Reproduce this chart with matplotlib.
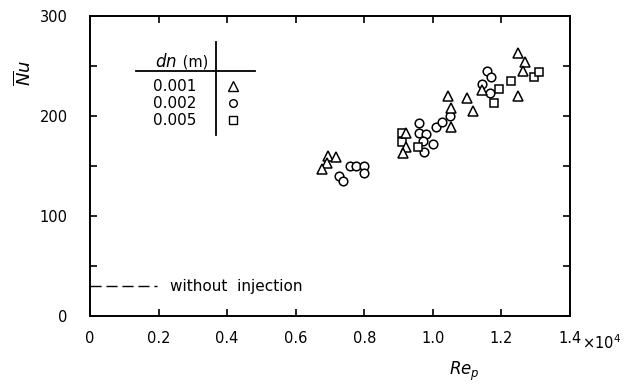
import matplotlib
matplotlib.use("Agg")
import matplotlib.pyplot as plt
from matplotlib.ticker import MultipleLocator, FixedLocator

plt.rcParams['font.family'] = ['DejaVu Sans']
plt.rcParams['mathtext.fontset'] = 'dejavusans'

# Mean Nusselt number vs particle Reynolds number (Re_p in units of 1e4)
re_d001 = [0.695, 0.717, 0.690, 0.678, 0.921, 0.923, 0.912, 1.045, 1.052, 1.052,
           1.100, 1.117, 1.142, 1.249, 1.249, 1.268, 1.263]
nu_d001 = [160, 159, 153, 147, 183, 169, 163, 220, 208, 189,
           218, 205, 226, 220, 263, 254, 245]

re_d002 = [0.758, 0.777, 0.800, 0.800, 0.727, 0.737, 0.959, 0.959, 0.979, 0.970,
           0.975, 1.000, 1.010, 1.028, 1.050, 1.159, 1.171, 1.142, 1.168]
nu_d002 = [150, 150, 150, 143, 140, 135, 193, 183, 182, 175,
           164, 172, 189, 194, 200, 245, 239, 232, 223]

re_d005 = [0.909, 0.909, 0.957, 1.192, 1.179, 1.229, 1.295, 1.309]
nu_d005 = [183, 174, 169, 227, 213, 235, 239, 244]

nozzle_labels = ['0.001', '0.002', '0.005']
nozzle_markers = ['^', 'o', 's']

# Reference level without injection
no_injection_nu = 30
no_injection_re_end = 0.195

x_ticks = [0, 0.2, 0.4, 0.6, 0.8, 1.0, 1.2, 1.4]
x_tick_labels = ['0', '0.2', '0.4', '0.6', '0.8', '1.0', '1.2', '1.4']
y_ticks = [0, 100, 200, 300]
y_tick_labels = ['0', '100', '200', '300']

fig = plt.figure(figsize=(6.31, 3.89), dpi=100)
ax = fig.add_axes([90 / 631, 1 - 316 / 389, 480 / 631, 300 / 389])

mk = dict(linestyle='none', markerfacecolor='white', markeredgecolor='black',
          markeredgewidth=1.1, zorder=3)
for re_vals, nu_vals, m, ms in [(re_d002, nu_d002, 'o', 6.2),
                                (re_d005, nu_d005, 's', 6.0),
                                (re_d001, nu_d001, '^', 7.0)]:
    ax.plot(re_vals, nu_vals, marker=m, markersize=ms, **mk)

ax.plot([0, no_injection_re_end], [no_injection_nu, no_injection_nu],
        color='black', linewidth=1.0, dashes=(8, 3.5))
ax.text(0.233, no_injection_nu, 'without  injection', fontsize=11,
        va='center', ha='left')

ax.set_xlim(0, 1.4)
ax.set_ylim(0, 300)
ax.set_xticks(x_ticks)
ax.set_xticklabels(x_tick_labels)
ax.yaxis.set_major_locator(FixedLocator(y_ticks))
ax.set_yticklabels(y_tick_labels)
ax.yaxis.set_minor_locator(MultipleLocator(50))

for s in ax.spines.values():
    s.set_linewidth(1.4)
ax.tick_params(which='both', direction='in', top=True, right=True,
               length=5, width=1.2, labelsize=10.5)
ax.tick_params(axis='x', pad=11)
ax.tick_params(axis='y', pad=16)

ax.text(1.024, -0.058, r'$\times$10$^4$', transform=ax.transAxes, fontsize=10.5,
        ha='left', va='top')

ax.set_xlabel(r'$Re_p$', fontsize=12)
ax.xaxis.set_label_coords(0.78, -0.145)
ax.set_ylabel(r'$\overline{N}u$', fontsize=13)
ax.yaxis.set_label_coords(-0.115, 0.81)

# Nozzle diameter table
tr = ax.transAxes
def fx(px):
    return (px - 90) / 480
def fy(py):
    return (316 - py) / 300

ax.plot([fx(136), fx(255)], [fy(70.7), fy(70.7)], color='black', lw=1.3,
        transform=tr, clip_on=False)
ax.plot([fx(216), fx(216)], [fy(42), fy(135)], color='black', lw=1.3,
        transform=tr, clip_on=False)
ax.text(fx(177), fy(62), r'$dn$', fontsize=12, ha='right', va='center',
        transform=tr)
ax.text(fx(178), fy(62), ' (m)', fontsize=10.5, ha='left', va='center',
        transform=tr)
for lbl, m, py in zip(nozzle_labels, nozzle_markers, [86, 103, 120]):
    ax.text(fx(175), fy(py), lbl, fontsize=11, ha='center', va='center',
            transform=tr)
    ax.plot([fx(233)], [fy(py)], marker=m, markersize=5.5 if m != '^' else 6.5,
            linestyle='none', markerfacecolor='white', markeredgecolor='black',
            markeredgewidth=1.0, transform=tr, clip_on=False)

fig.savefig('out.png', dpi=100)
